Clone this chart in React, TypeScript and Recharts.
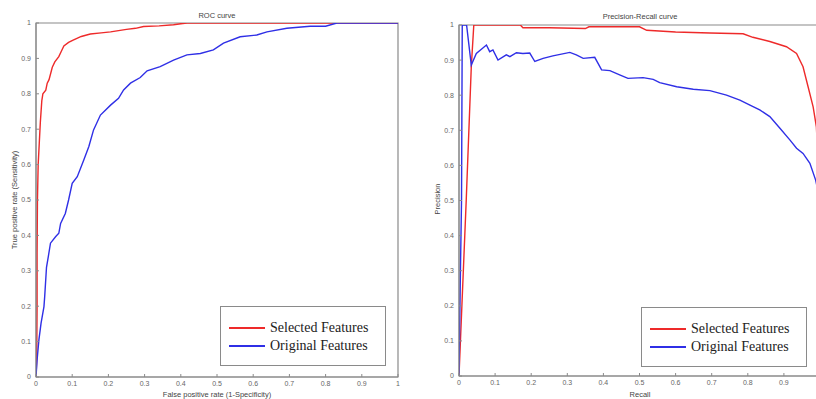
import { LineChart, Line, XAxis, YAxis, ReferenceArea } from 'recharts';

const TICKS = [0, 0.1, 0.2, 0.3, 0.4, 0.5, 0.6, 0.7, 0.8, 0.9, 1];
// right panel is cut by the page edge, its x = 1 label is not shown
const PR_X_TICKS = [0, 0.1, 0.2, 0.3, 0.4, 0.5, 0.6, 0.7, 0.8, 0.9];

const rocSelectedFpr = [0, 0.002, 0.003, 0.003, 0.004, 0.006, 0.009, 0.012, 0.016, 0.019, 0.027, 0.031, 0.036, 0.045, 0.052, 0.063, 0.07, 0.077, 0.09, 0.104, 0.125, 0.15, 0.18, 0.206, 0.25, 0.275, 0.297, 0.34, 0.38, 0.4, 0.417, 0.6, 0.8, 1];
const rocSelectedTpr = [0, 0.05, 0.2, 0.35, 0.5, 0.6, 0.66, 0.72, 0.78, 0.8, 0.81, 0.83, 0.84, 0.875, 0.89, 0.905, 0.92, 0.935, 0.945, 0.952, 0.962, 0.969, 0.972, 0.975, 0.982, 0.985, 0.99, 0.992, 0.995, 0.998, 1, 1, 1, 1];

const rocOriginalFpr = [0, 0.003, 0.008, 0.014, 0.022, 0.024, 0.029, 0.034, 0.04, 0.054, 0.063, 0.068, 0.081, 0.09, 0.1, 0.114, 0.132, 0.146, 0.159, 0.178, 0.206, 0.228, 0.242, 0.261, 0.288, 0.307, 0.343, 0.38, 0.417, 0.454, 0.49, 0.518, 0.564, 0.61, 0.638, 0.693, 0.757, 0.8, 0.831, 0.9, 1];
const rocOriginalTpr = [0, 0.048, 0.105, 0.152, 0.199, 0.227, 0.31, 0.34, 0.378, 0.396, 0.406, 0.434, 0.462, 0.5, 0.547, 0.566, 0.613, 0.651, 0.698, 0.74, 0.768, 0.787, 0.811, 0.83, 0.846, 0.865, 0.877, 0.895, 0.91, 0.914, 0.924, 0.943, 0.961, 0.966, 0.975, 0.985, 0.991, 0.991, 1, 1, 1];

const prSelectedRecall = [0, 0.02, 0.034, 0.041, 0.1, 0.17, 0.177, 0.25, 0.35, 0.36, 0.5, 0.52, 0.6, 0.695, 0.787, 0.814, 0.861, 0.907, 0.935, 0.953, 0.967, 0.981, 0.99, 1];
const prSelectedPrecision = [0, 0.5, 0.88, 1, 1, 1, 0.992, 0.992, 0.99, 0.995, 0.995, 0.985, 0.98, 0.977, 0.975, 0.965, 0.953, 0.938, 0.919, 0.881, 0.824, 0.767, 0.71, 0.5];

const prOriginalRecall = [0, 0.004, 0.007, 0.009, 0.021, 0.034, 0.048, 0.076, 0.085, 0.094, 0.108, 0.131, 0.141, 0.159, 0.177, 0.196, 0.21, 0.233, 0.26, 0.307, 0.325, 0.344, 0.376, 0.395, 0.418, 0.445, 0.468, 0.51, 0.538, 0.556, 0.603, 0.649, 0.695, 0.741, 0.778, 0.806, 0.833, 0.861, 0.889, 0.917, 0.935, 0.953, 0.972, 0.988, 1];
const prOriginalPrecision = [0, 0.3, 0.5, 1, 1, 0.886, 0.919, 0.943, 0.924, 0.929, 0.9, 0.915, 0.91, 0.921, 0.919, 0.92, 0.896, 0.905, 0.912, 0.922, 0.915, 0.905, 0.908, 0.872, 0.87, 0.858, 0.848, 0.85, 0.845, 0.836, 0.824, 0.817, 0.813, 0.8, 0.786, 0.772, 0.758, 0.739, 0.706, 0.672, 0.649, 0.634, 0.606, 0.558, 0.5];

const SERIES = ['Selected Features', 'Original Features'];
const RED = '#ee2a2a';
const BLUE = '#2f2fe6';
const AXIS = '#8a8a8a';

const zip = (xs: number[], ys: number[]) => xs.map((x, i) => ({ x, y: ys[i] }));

const tickStyle = { fontSize: 7, fill: '#666', fontFamily: 'Liberation Sans, Arial, sans-serif' };
const fmt = (v: number) => String(Math.round(v * 10) / 10);

function Text({ x, y, children, rotate }: { x: number; y: number; children: string; rotate?: boolean }) {
  return (
    <div
      style={{
        position: 'absolute',
        left: x,
        top: y,
        transform: `translate(-50%, -50%)${rotate ? ' rotate(-90deg)' : ''}`,
        whiteSpace: 'nowrap',
        fontSize: 7.5,
        color: '#444',
        fontFamily: 'Liberation Sans, Arial, sans-serif',
      }}
    >
      {children}
    </div>
  );
}

function LegendBox({ left, top }: { left: number; top: number }) {
  return (
    <div
      style={{
        position: 'absolute',
        left,
        top,
        width: 166,
        height: 60,
        border: `1px solid ${AXIS}`,
        background: '#fff',
        boxSizing: 'border-box',
        paddingTop: 12,
        fontFamily: 'Liberation Serif, Times New Roman, serif',
        fontSize: 14,
        color: '#222',
      }}
    >
      {SERIES.map((name, i) => (
        <div key={name} style={{ display: 'flex', alignItems: 'center', height: 18, paddingLeft: 8 }}>
          <div style={{ width: 36, height: 2.5, background: i === 0 ? RED : BLUE, marginRight: 5 }} />
          <span>{name}</span>
        </div>
      ))}
    </div>
  );
}

function Panel({
  width,
  left,
  top,
  bottom,
  right,
  xTicks,
  selected,
  original,
}: {
  width: number;
  left: number;
  top: number;
  bottom: number;
  right: number;
  xTicks: number[];
  selected: { x: number; y: number }[];
  original: { x: number; y: number }[];
}) {
  return (
    <LineChart width={width} height={399} margin={{ top, right, bottom: 0, left: 0 }}>
      <XAxis
        type="number"
        dataKey="x"
        domain={[0, 1]}
        ticks={xTicks}
        interval={0}
        tickFormatter={fmt}
        height={bottom}
        stroke={AXIS}
        tickLine={{ stroke: AXIS }}
        tickSize={-3}
        tickMargin={7}
        tick={tickStyle}
        allowDataOverflow
      />
      <YAxis
        type="number"
        dataKey="y"
        domain={[0, 1]}
        ticks={TICKS}
        interval={0}
        tickFormatter={fmt}
        width={left}
        stroke={AXIS}
        tickLine={{ stroke: AXIS }}
        tickSize={-3}
        tickMargin={8}
        tick={tickStyle}
        allowDataOverflow
      />
      <ReferenceArea x1={0} x2={1} y1={0} y2={1} fill="none" stroke={AXIS} strokeWidth={1.2} />
      <Line data={selected} dataKey="y" type="linear" stroke={RED} strokeWidth={1.4} dot={false} isAnimationActive={false} />
      <Line data={original} dataKey="y" type="linear" stroke={BLUE} strokeWidth={1.4} dot={false} isAnimationActive={false} />
    </LineChart>
  );
}

export default function App() {
  return (
    <div style={{ position: 'fixed', left: 0, top: 0, width: 816, height: 399, overflow: 'hidden', background: '#fff' }}>
      <div style={{ position: 'absolute', left: 0, top: 0 }}>
        <Panel
          width={410}
          left={36}
          top={23}
          bottom={22}
          right={12}
          xTicks={TICKS}
          selected={zip(rocSelectedFpr, rocSelectedTpr)}
          original={zip(rocOriginalFpr, rocOriginalTpr)}
        />
      </div>
      <div style={{ position: 'absolute', left: 410, top: 0 }}>
        <Panel
          width={420}
          left={49}
          top={25}
          bottom={23}
          right={10}
          xTicks={PR_X_TICKS}
          selected={zip(prSelectedRecall, prSelectedPrecision)}
          original={zip(prOriginalRecall, prOriginalPrecision)}
        />
      </div>
      <Text x={217} y={15}>ROC curve</Text>
      <Text x={640} y={16}>Precision-Recall curve</Text>
      <Text x={217} y={394}>False positive rate (1-Specificity)</Text>
      <Text x={640} y={394}>Recall</Text>
      <Text x={14} y={200} rotate>True positive rate (Sensitivity)</Text>
      <Text x={437} y={199} rotate>Precision</Text>
      <LegendBox left={220} top={306} />
      <LegendBox left={641} top={307} />
    </div>
  );
}
